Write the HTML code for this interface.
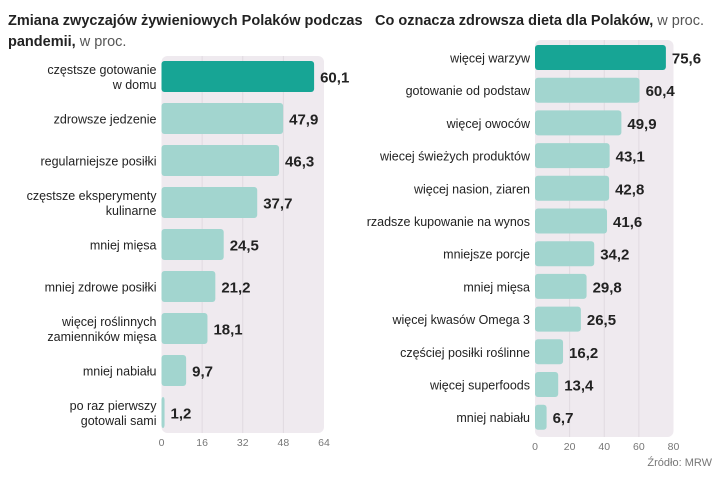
<!DOCTYPE html>
<html><head><meta charset="utf-8"><style>
body{margin:0;background:#fff;width:720px;height:476px;overflow:hidden;font-family:"Liberation Sans",sans-serif}
svg text{font-family:"Liberation Sans",sans-serif}
</style></head><body>
<svg id="s" width="720" height="476">
<text x="8" y="25" font-size="14.5" font-weight="bold" fill="#222">Zmiana zwyczajów żywieniowych Polaków podczas</text>
<text x="8" y="46" font-size="14.5" fill="#222"><tspan font-weight="bold">pandemii,</tspan><tspan fill="#555"> w proc.</tspan></text>
<text x="375" y="25" font-size="14.5" fill="#555"><tspan font-weight="bold" fill="#222">Co oznacza zdrowsza dieta dla Polaków,</tspan> w proc.</text>
<text x="712" y="466" font-size="11" fill="#777" text-anchor="end">Źródło: MRW</text>
</svg>
<script>
const leftCats=[["częstsze gotowanie","w domu"],["zdrowsze jedzenie"],["regularniejsze posiłki"],["częstsze eksperymenty","kulinarne"],["mniej mięsa"],["mniej zdrowe posiłki"],["więcej roślinnych","zamienników mięsa"],["mniej nabiału"],["po raz pierwszy","gotowali sami"]];
const leftVals=[60.1,47.9,46.3,37.7,24.5,21.2,18.1,9.7,1.2];
const leftTicks=[0,16,32,48,64];
const rightCats=[["więcej warzyw"],["gotowanie od podstaw"],["więcej owoców"],["wiecej świeżych produktów"],["więcej nasion, ziaren"],["rzadsze kupowanie na wynos"],["mniejsze porcje"],["mniej mięsa"],["więcej kwasów Omega 3"],["częściej posiłki roślinne"],["więcej superfoods"],["mniej nabiału"]];
const rightVals=[75.6,60.4,49.9,43.1,42.8,41.6,34.2,29.8,26.5,16.2,13.4,6.7];
const rightTicks=[0,20,40,60,80];
const svg=document.getElementById('s');const NS='http://www.w3.org/2000/svg';
function el(t,a,txt){const e=document.createElementNS(NS,t);for(const k in a)e.setAttribute(k,a[k]);if(txt!=null)e.textContent=txt;svg.appendChild(e);return e;}
function chart(p,cats,vals,ticks){
 const max=ticks[ticks.length-1];const x=v=>p.x0+(p.x1-p.x0)*v/max;
 const y=i=>p.y0+i*p.step;
 let r=el('rect',{x:p.x0,y:p.py0,width:p.x1-p.x0,height:p.py1-p.py0,rx:6,fill:'#efeaef'});
 
 
 ticks.forEach((t,i)=>{
  if(i>0&&i<ticks.length-1){const g=el('line',{x1:x(t),x2:x(t),y1:p.py0,y2:p.py1,stroke:'#e0dae0','stroke-width':1});
  
  }
  const tl=el('text',{x:x(t),y:p.py1+13,'font-size':10.5,fill:'#777','text-anchor':'middle'},t);
  
  
 });
 vals.forEach((v,i)=>{
  const b=el('rect',{x:p.x0,y:y(i),width:x(v)-p.x0,height:p.bh,rx:3,fill:i==0?'#17a595':'#a2d5cf'});
  
  
  const vt=el('text',{x:x(v)+6,y:y(i)+p.bh/2+6,'font-size':15,'font-weight':'bold',fill:'#222'},String(v).replace('.',','));
  
  
  const c=cats[i];
  c.forEach((line,j)=>{
   const ly=y(i)+p.bh/2+5+(j-(c.length-1)/2)*15;
   const ct=el('text',{x:p.x0-5,y:ly,'font-size':12.5,fill:'#222','text-anchor':'end'},line);
   
   
  });
 });
}
chart({n:'left',x0:161.5,x1:324,y0:61,step:42,bh:31,py0:56,py1:433},leftCats,leftVals,leftTicks);
chart({n:'right',x0:535,x1:673.5,y0:45,step:32.7,bh:25,py0:40,py1:437},rightCats,rightVals,rightTicks);
</script>
</body></html>
